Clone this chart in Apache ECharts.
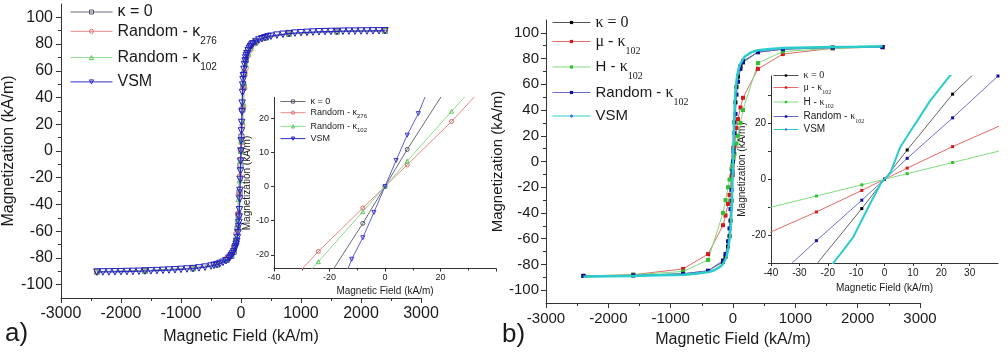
<!DOCTYPE html>
<html>
<head>
<meta charset="utf-8">
<script src="https://cdn.jsdelivr.net/npm/echarts@6/dist/echarts.min.js"></script>
<style>
  html, body { margin: 0; padding: 0; background: #fff; }
  #chart { width: 1008px; height: 353px; }
</style>
</head>
<body>
<div id="chart"></div>
<script>
// ---- panel a) : measured VSM curve and the three simulations ----
var aVsmH = [-2400,-2300,-2200,-2100,-2000,-1900,-1800,-1700,-1600,-1500,-1400,-1300,-1200,-1100,-1000,-900,-800,-700,-600,-500,-450,-400,-350,-300,-250,-200,-180,-160,-140,-120,-100,-90,-80,-70,-60,-50,-40,-35,-30,-25,-20,-16,-12,-8,-4,0,
             4,8,12,16,20,25,30,35,40,50,60,70,80,90,100,120,140,160,180,200,250,300,350,400,450,500,600,700,800,900,1000,1100,1200,1300,1400,1500,1600,1700,1800,1900,2000,2100,2200,2300,2400];
var aVsmM = [-90.6,-90.5,-90.5,-90.4,-90.3,-90.2,-90.1,-90.0,-89.8,-89.7,-89.5,-89.3,-89.1,-88.9,-88.6,-88.3,-88.0,-87.5,-86.9,-86.1,-85.6,-85.0,-84.2,-83.3,-82.1,-80.4,-79.5,-78.4,-77.0,-75.3,-73.0,-71.6,-69.8,-67.6,-64.8,-61.2,-56.5,-53.5,-49.5,-44.0,-36.0,-29.5,-21.3,-15.0,-7.6,0,
             7.6,15.0,21.3,29.3,35.8,43.8,49.3,53.3,56.3,61.0,64.6,67.4,69.6,71.4,72.8,75.1,76.8,78.2,79.3,80.2,81.9,83.1,84.0,84.8,85.4,85.9,86.7,87.3,87.8,88.2,88.5,88.8,89.0,89.2,89.3,89.4,89.5,89.6,89.7,89.7,89.8,89.8,89.9,89.9,90.0];

var aSimH    = [-2400,-1600,-800,-400,-240,-160,-120,-80,-56,-40,-24,-8,0,8,24,40,56,80,120,160,240,400,800,1600,2400];
var aK0M     = [-90.3,-89.6,-87.8,-85.0,-81.5,-78.5,-75.5,-68.0,-58.0,-48.0,-31.0,-10.8,0,10.8,31.0,48.0,58.0,68.0,75.5,78.5,81.5,84.8,87.8,89.5,90.0];
var aR276M   = [-90.3,-89.6,-87.6,-84.5,-80.5,-76.0,-71.5,-62.0,-47.0,-33.0,-19.0,-6.3,0,6.3,19.0,33.0,47.0,62.0,71.5,76.0,80.5,84.5,87.6,89.5,90.0];
var aR102M   = [-90.3,-89.6,-87.7,-84.8,-81.0,-77.0,-73.0,-65.0,-51.0,-36.0,-22.0,-7.4,0,7.4,22.0,36.0,51.0,65.0,73.0,77.0,81.0,84.8,87.7,89.5,90.0];

// ---- panel b) ----
var bSimH    = [-2400,-1600,-800,-400,-160,-120,-80,-56,-40,-24,-8,0,8,24,40,56,80,120,160,400,800,1600,2400];
var bK0M     = [-88.8,-88.5,-87.3,-85.0,-78.0,-74.0,-66.0,-58.0,-46.0,-30.5,-10.5,0,10.5,30.5,46.0,58.0,66.0,74.0,78.0,85.0,87.3,88.5,88.8];
var bR102M   = [-89.0,-88.5,-87.3,-85.0,-77.0,-72.0,-62.0,-52.0,-37.0,-22.0,-7.5,0,7.5,22.0,37.0,52.0,62.0,72.0,77.0,85.0,87.3,88.5,89.0];
var bAnisoH  = [-2400,-1600,-800,-400,-160,-120,-80,-56,-24,-8,0,8,24,56,80,120,160,400,800,1600,2400];
var bMuM     = [-89.0,-88.0,-83.5,-72.0,-49.5,-42.0,-33.0,-26.0,-11.7,-4.0,0,4.0,11.7,26.0,33.0,42.0,49.5,72.0,83.5,88.0,89.0];
var bHM      = [-89.0,-88.0,-85.5,-76.5,-40.0,-30.0,-20.0,-14.0,-6.0,-2.0,0,2.0,6.0,14.0,20.0,30.0,40.0,76.5,85.5,88.0,89.0];
var bVsmH    = [-2400,-2000,-1600,-1200,-800,-600,-400,-300,-200,-160,-120,-100,-80,-60,-40,-30,-18,-11,-5,-1,2,5.5,9,11.6,16,22.5,30,40,60,80,100,120,160,200,300,400,600,800,1200,1600,2000,2400];
var bVsmM    = [-89.5,-89.2,-89.0,-88.5,-88.0,-87.3,-86.0,-84.5,-81.5,-79.5,-76.0,-73.0,-69.0,-62.0,-53.0,-45.0,-30.0,-20.7,-8.6,-1.0,2.1,11.4,17.0,21.0,28.0,36.4,45.0,54.0,64.0,70.0,73.5,76.0,79.5,82.0,85.0,86.5,87.5,88.2,88.7,89.0,89.2,89.5];

// tick labels
var mainYTicks = [-100,-80,-60,-40,-20,0,20,40,60,80,100];
var insetAYTicks = [-20,-10,0,10,20];
var insetBYLabels = [-20,0,20];
var insetBYTicks = [-30,-20,-10,0,10,20,30];

var FONT = '"Liberation Sans", Arial, sans-serif';
var SERIF = '"Liberation Serif", "Times New Roman", serif';
var INK = '#1a1a1a';

var labels = {
  a_k0: '{m|κ = 0}',
  a_r276: '{m|Random - κ}{s|276}',
  a_r102: '{m|Random - κ}{s|102}',
  a_vsm: '{m|VSM}',
  b_k0: '{k|κ = 0}',
  b_mu: '{k|μ - κ}{s|102}',
  b_h: '{m|H - }{k|κ}{s|102}',
  b_r102: '{m|Random - }{k|κ}{s|102}',
  b_vsm: '{m|VSM}'
};

function pairs(h, m) {
  return h.map(function (x, i) { return [x, m[i]]; });
}

function line(name, gi, h, m, st) {
  var hollow = !!st.hollow;
  return {
    name: name, type: 'line', xAxisIndex: gi, yAxisIndex: gi,
    data: pairs(h, m),
    symbol: st.symbol || 'none',
    symbolSize: st.size || 4,
    symbolRotate: st.rotate || 0,
    showSymbol: st.symbol && st.symbol !== 'none',
    clip: true,
    z: st.z || 2,
    lineStyle: { color: st.line, width: st.width || 1 },
    itemStyle: hollow
      ? { color: 'rgba(255,255,255,0)', borderColor: st.mark, borderWidth: 1 }
      : { color: st.mark, borderWidth: 0 },
    emphasis: { disabled: true }
  };
}

function plain(v) { return String(v); }

function valAxis(gi, o) {
  var ax = {
    gridIndex: gi, type: 'value', min: o.min, max: o.max,
    axisLine: { show: true, onZero: false, lineStyle: { color: '#333', width: 1 } },
    axisTick: { show: true, inside: false, length: o.tick || 5, lineStyle: { color: '#333' } },
    minorTick: { show: !!o.minor, splitNumber: 2, length: o.minorLen || 3, lineStyle: { color: '#333' } },
    splitLine: { show: false },
    axisLabel: { fontFamily: FONT, fontSize: o.fs, color: INK, margin: o.margin || 7, formatter: plain },
    name: o.name, nameLocation: 'middle', nameGap: o.gap,
    nameTextStyle: { fontFamily: FONT, fontSize: o.nfs, color: INK }
  };
  if (o.interval) ax.interval = o.interval;
  if (o.splitNumber) ax.splitNumber = o.splitNumber;
  if (o.labels) ax.axisLabel.customValues = o.labels;
  if (o.ticks) ax.axisTick.customValues = o.ticks;
  if (o.hideMax) ax.axisLabel.showMaxLabel = false;
  return ax;
}

function legend(names, left, top, gap, iw, ih, rich) {
  return {
    data: names, orient: 'vertical', left: left, top: top, padding: 0,
    itemGap: gap, itemWidth: iw, itemHeight: ih, selectedMode: false,
    lineStyle: { width: 1 },
    itemStyle: { borderWidth: 1 },
    formatter: function (n) { return labels[n]; },
    textStyle: { fontFamily: FONT, color: INK, rich: rich }
  };
}

var stA = {
  k0:   { symbol: 'rect', hollow: true, size: 5, line: '#6a6a78', mark: '#55556a' },
  r276: { symbol: 'circle', hollow: true, size: 5, line: '#e88a8a', mark: '#e06a6a' },
  r102: { symbol: 'triangle', hollow: true, size: 5, line: '#8fdc8f', mark: '#5ec85e' },
  vsm:  { symbol: 'triangle', rotate: 180, hollow: true, size: 6.5, line: '#3030c8', mark: '#2020c0', width: 1.2, z: 3 }
};
var stAi = {
  k0:   { symbol: 'circle', hollow: true, size: 4, line: '#6a6a78', mark: '#55556a' },
  r276: { symbol: 'circle', hollow: true, size: 4, line: '#e88a8a', mark: '#e06a6a' },
  r102: { symbol: 'triangle', hollow: true, size: 4, line: '#8fdc8f', mark: '#5ec85e' },
  vsm:  { symbol: 'triangle', rotate: 180, hollow: true, size: 4, line: '#6060d8', mark: '#3a3ad0', z: 3 }
};
var stB = {
  k0:   { symbol: 'rect', size: 4, line: '#555', mark: '#000' },
  mu:   { symbol: 'rect', size: 4, line: '#e26a6a', mark: '#d81818' },
  h:    { symbol: 'rect', size: 4, line: '#80dc80', mark: '#30c030' },
  r102: { symbol: 'rect', size: 4, line: '#6a6ad0', mark: '#101098' },
  vsm:  { symbol: 'none', line: '#2ccccc', width: 2.5, z: 4 }
};
var stBi = {
  k0:   { symbol: 'rect', size: 3, line: '#666', mark: '#000' },
  mu:   { symbol: 'rect', size: 3, line: '#e26a6a', mark: '#d81818' },
  h:    { symbol: 'rect', size: 3, line: '#80dc80', mark: '#30c030' },
  r102: { symbol: 'rect', size: 3, line: '#7070d0', mark: '#101098' },
  vsm:  { symbol: 'none', line: '#2ccccc', width: 2, z: 4 }
};

var option = {
  animation: false,
  backgroundColor: '#fff',
  grid: [
    { left: 59, top: 4, width: 362, height: 294 },
    { left: 274, top: 97.5, width: 222, height: 171 },
    { left: 546, top: 20, width: 374, height: 285 },
    { left: 771, top: 76, width: 227, height: 187 }
  ],
  xAxis: [
    valAxis(0, { min: -3000, max: 3000, interval: 1000, minor: true, fs: 16, margin: 8,
                 name: 'Magnetic Field (kA/m)', gap: 31, nfs: 16 }),
    valAxis(1, { min: -40, max: 40, interval: 20, minor: true, tick: 3, minorLen: 2, fs: 9, margin: 5,
                 name: 'Magnetic Field (kA/m)', gap: 18, nfs: 10, hideMax: true }),
    valAxis(2, { min: -3000, max: 3000, interval: 1000, minor: true, fs: 15, margin: 8,
                 name: 'Magnetic Field (kA/m)', gap: 29, nfs: 16 }),
    valAxis(3, { min: -40, max: 40, interval: 10, tick: 3, fs: 10, margin: 5,
                 name: 'Magnetic Field (kA/m)', gap: 19, nfs: 10, hideMax: true })
  ],
  yAxis: [
    valAxis(0, { min: -110, max: 110, splitNumber: 11, minor: true, fs: 16, margin: 8,
                 labels: mainYTicks, ticks: mainYTicks,
                 name: 'Magnetization (kA/m)', gap: 42, nfs: 16 }),
    valAxis(1, { min: -24, max: 26, tick: 3, fs: 9, margin: 5,
                 labels: insetAYTicks, ticks: insetAYTicks,
                 name: 'Magnetization (kA/m)', gap: 19, nfs: 10 }),
    valAxis(2, { min: -110, max: 110, splitNumber: 11, minor: true, fs: 15, margin: 7,
                 labels: mainYTicks, ticks: mainYTicks,
                 name: 'Magnetization (kA/m)', gap: 36, nfs: 15 }),
    valAxis(3, { min: -30, max: 37, tick: 3, fs: 10, margin: 5,
                 labels: insetBYLabels, ticks: insetBYTicks,
                 name: 'Magnetization (kA/m)', gap: 20, nfs: 10 })
  ],
  legend: [
    legend(['a_k0', 'a_r276', 'a_r102', 'a_vsm'], 70, 4, 1.3, 42, 5, {
      m: { fontFamily: FONT, fontSize: 16, lineHeight: 20, color: INK },
      s: { fontFamily: FONT, fontSize: 10, lineHeight: 10, padding: [15, 0, -5, 0], color: INK }
    }),
    legend(['a_k0', 'a_r276', 'a_r102', 'a_vsm'], 280, 97, 0.7, 25, 4, {
      m: { fontFamily: FONT, fontSize: 9, lineHeight: 12, color: INK },
      s: { fontFamily: FONT, fontSize: 6, lineHeight: 6, padding: [7, 0, -1, 0], color: INK }
    }),
    legend(['b_k0', 'b_mu', 'b_h', 'b_r102', 'b_vsm'], 552, 14.5, 1.5, 38, 4, {
      m: { fontFamily: FONT, fontSize: 15, lineHeight: 19, color: INK },
      k: { fontFamily: SERIF, fontSize: 16, lineHeight: 19, color: INK },
      s: { fontFamily: SERIF, fontSize: 10, lineHeight: 10, padding: [14, 0, -5, 0], color: INK }
    }),
    legend(['b_k0', 'b_mu', 'b_h', 'b_r102', 'b_vsm'], 773, 70.5, 0.5, 25, 3, {
      m: { fontFamily: FONT, fontSize: 10, lineHeight: 13, color: INK },
      k: { fontFamily: SERIF, fontSize: 10, lineHeight: 13, color: INK },
      s: { fontFamily: SERIF, fontSize: 6, lineHeight: 6, padding: [8, 0, -1, 0], color: INK }
    })
  ],
  graphic: [
    { type: 'text', left: 5, top: 321, style: { text: 'a)', font: '26px ' + FONT, fill: INK } },
    { type: 'text', left: 502, top: 322, style: { text: 'b)', font: '26px ' + FONT, fill: INK } }
  ],
  series: [
    line('a_k0', 0, aSimH, aK0M, stA.k0),
    line('a_r276', 0, aSimH, aR276M, stA.r276),
    line('a_r102', 0, aSimH, aR102M, stA.r102),
    line('a_vsm', 0, aVsmH, aVsmM, stA.vsm),

    line('a_k0', 1, aSimH, aK0M, stAi.k0),
    line('a_r276', 1, aSimH, aR276M, stAi.r276),
    line('a_r102', 1, aSimH, aR102M, stAi.r102),
    line('a_vsm', 1, aVsmH, aVsmM, stAi.vsm),

    line('b_k0', 2, bSimH, bK0M, stB.k0),
    line('b_mu', 2, bAnisoH, bMuM, stB.mu),
    line('b_h', 2, bAnisoH, bHM, stB.h),
    line('b_r102', 2, bSimH, bR102M, stB.r102),
    line('b_vsm', 2, bVsmH, bVsmM, stB.vsm),

    line('b_k0', 3, bSimH, bK0M, stBi.k0),
    line('b_mu', 3, bAnisoH, bMuM, stBi.mu),
    line('b_h', 3, bAnisoH, bHM, stBi.h),
    line('b_r102', 3, bSimH, bR102M, stBi.r102),
    line('b_vsm', 3, bVsmH, bVsmM, stBi.vsm)
  ]
};

var chart = echarts.init(document.getElementById('chart'), null, { renderer: 'canvas' });
chart.setOption(option);
</script>
</body>
</html>
